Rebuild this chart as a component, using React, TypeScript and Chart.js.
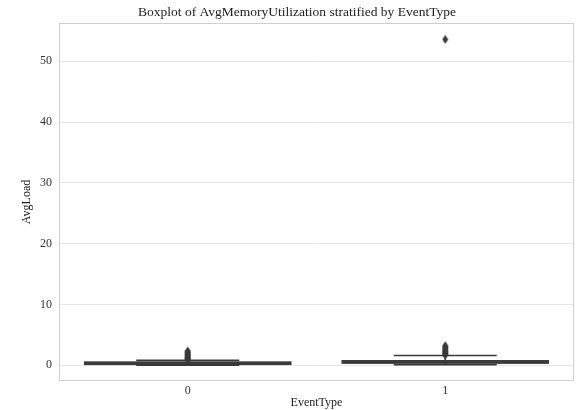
import React, { useEffect, useRef } from 'react';
import { Chart, registerables } from 'chart.js';

Chart.register(...registerables);

const categories = ['0', '1'];
const whiskerLow = [0.02, 0.08];
const q1 = [0.15, 0.35];
const median = [0.3, 0.55];
const q3 = [0.5, 0.72];
const whiskerHigh = [0.8, 1.6];
const outliers0 = [0.9, 1.0, 1.1, 1.2, 1.3, 1.45, 1.6, 1.75, 1.9, 2.05, 2.2, 2.3];
const outliers1 = [1.7, 1.8, 1.95, 2.1, 2.25, 2.4, 2.6, 2.8, 3.0, 3.2, 53.6];
const yTickStep = 10;

const LINE = '#3a3a3a';
const FONT = "'Liberation Serif', 'Times New Roman', serif";

function makeDiamond(): HTMLCanvasElement {
  const c = document.createElement('canvas');
  c.width = 7;
  c.height = 10;
  const g = c.getContext('2d')!;
  g.fillStyle = LINE;
  g.beginPath();
  g.moveTo(3.5, 0.5);
  g.lineTo(6.5, 5);
  g.lineTo(3.5, 9.5);
  g.lineTo(0.5, 5);
  g.closePath();
  g.fill();
  return c;
}

const framePlugin = {
  id: 'frame',
  beforeDatasetsDraw(chart: any) {
    const { ctx, chartArea } = chart;
    ctx.save();
    ctx.strokeStyle = '#cfcfcf';
    ctx.lineWidth = 1;
    ctx.strokeRect(chartArea.left + 0.5, chartArea.top + 0.5, chartArea.right - chartArea.left - 1, chartArea.bottom - chartArea.top - 1);
    ctx.restore();
  },
};

const boxPlugin = {
  id: 'boxes',
  beforeDatasetsDraw(chart: any) {
    const { ctx } = chart;
    const x = chart.scales.x;
    const y = chart.scales.y;
    ctx.save();
    categories.forEach((_, i) => {
      const cx = x.getPixelForValue(i);
      const left = x.getPixelForValue(i - 0.4);
      const right = x.getPixelForValue(i + 0.4);
      const capL = x.getPixelForValue(i - 0.2);
      const capR = x.getPixelForValue(i + 0.2);
      const yLo = y.getPixelForValue(whiskerLow[i]);
      const yHi = y.getPixelForValue(whiskerHigh[i]);
      const yQ1 = y.getPixelForValue(q1[i]);
      const yQ3 = y.getPixelForValue(q3[i]);
      const yMed = y.getPixelForValue(median[i]);
      ctx.strokeStyle = LINE;
      ctx.fillStyle = '#474747';
      ctx.lineWidth = 1.6;
      ctx.beginPath();
      ctx.moveTo(cx, yQ1);
      ctx.lineTo(cx, yLo);
      ctx.moveTo(cx, yQ3);
      ctx.lineTo(cx, yHi);
      ctx.moveTo(capL, yLo);
      ctx.lineTo(capR, yLo);
      ctx.moveTo(capL, yHi);
      ctx.lineTo(capR, yHi);
      ctx.stroke();
      ctx.fillRect(left, yQ3, right - left, yQ1 - yQ3);
      ctx.strokeRect(left, yQ3, right - left, yQ1 - yQ3);
      ctx.beginPath();
      ctx.moveTo(left, yMed);
      ctx.lineTo(right, yMed);
      ctx.stroke();
    });
    ctx.restore();
  },
};

export default function App() {
  const ref = useRef<HTMLCanvasElement | null>(null);
  useEffect(() => {
    if (!ref.current) return;
    const diamond = makeDiamond();
    const chart = new Chart(ref.current, {
      type: 'scatter',
      data: {
        datasets: [
          {
            data: outliers0.map((v) => ({ x: 0, y: v })),
            pointStyle: diamond as any,
            backgroundColor: LINE,
            borderColor: LINE,
          },
          {
            data: outliers1.map((v) => ({ x: 1, y: v })),
            pointStyle: diamond as any,
            backgroundColor: LINE,
            borderColor: LINE,
          },
        ],
      },
      options: {
        responsive: false,
        animation: false,
        devicePixelRatio: 1,
        layout: { padding: { left: 20, right: 6, top: 0, bottom: 0 } },
        plugins: {
          legend: { display: false },
          tooltip: { enabled: false },
          title: {
            display: true,
            text: 'Boxplot of AvgMemoryUtilization stratified by EventType',
            color: '#222',
            font: { family: FONT, size: 13.5, weight: 'normal' },
            padding: { top: 4, bottom: 2.8 },
          },
        },
        scales: {
          x: {
            type: 'linear',
            min: -0.5,
            max: 1.5,
            afterBuildTicks: (s: any) => {
              s.ticks = categories.map((_, i) => ({ value: i }));
            },
            afterFit: (s: any) => {
              s.height = 29;
            },
            ticks: {
              callback: (v: any) => categories[v as number] ?? '',
              color: '#333',
              font: { family: FONT, size: 12 },
              padding: 3,
              autoSkip: false,
              maxRotation: 0,
            },
            grid: { display: false, drawTicks: false },
            border: { display: false },
            title: {
              display: true,
              text: 'EventType',
              color: '#222',
              font: { family: FONT, size: 12 },
              padding: { top: 0, bottom: 0 },
            },
          },
          y: {
            min: -2.6,
            max: 56.3,
            afterFit: (s: any) => {
              s.width = 39;
            },
            ticks: {
              stepSize: yTickStep,
              includeBounds: false,
              color: '#333',
              font: { family: FONT, size: 12 },
              padding: 7,
            },
            grid: { color: '#e6e6e6', drawTicks: false },
            border: { display: false },
            title: {
              display: true,
              text: 'AvgLoad',
              color: '#222',
              font: { family: FONT, size: 12 },
              padding: { top: 0, bottom: 0 },
            },
          },
        },
      },
      plugins: [framePlugin, boxPlugin],
    });
    return () => chart.destroy();
  }, []);
  return (
    <div style={{ position: 'fixed', left: 0, top: 0, width: 580, height: 410, background: '#fff' }}>
      <canvas ref={ref} width={580} height={410} />
    </div>
  );
}
